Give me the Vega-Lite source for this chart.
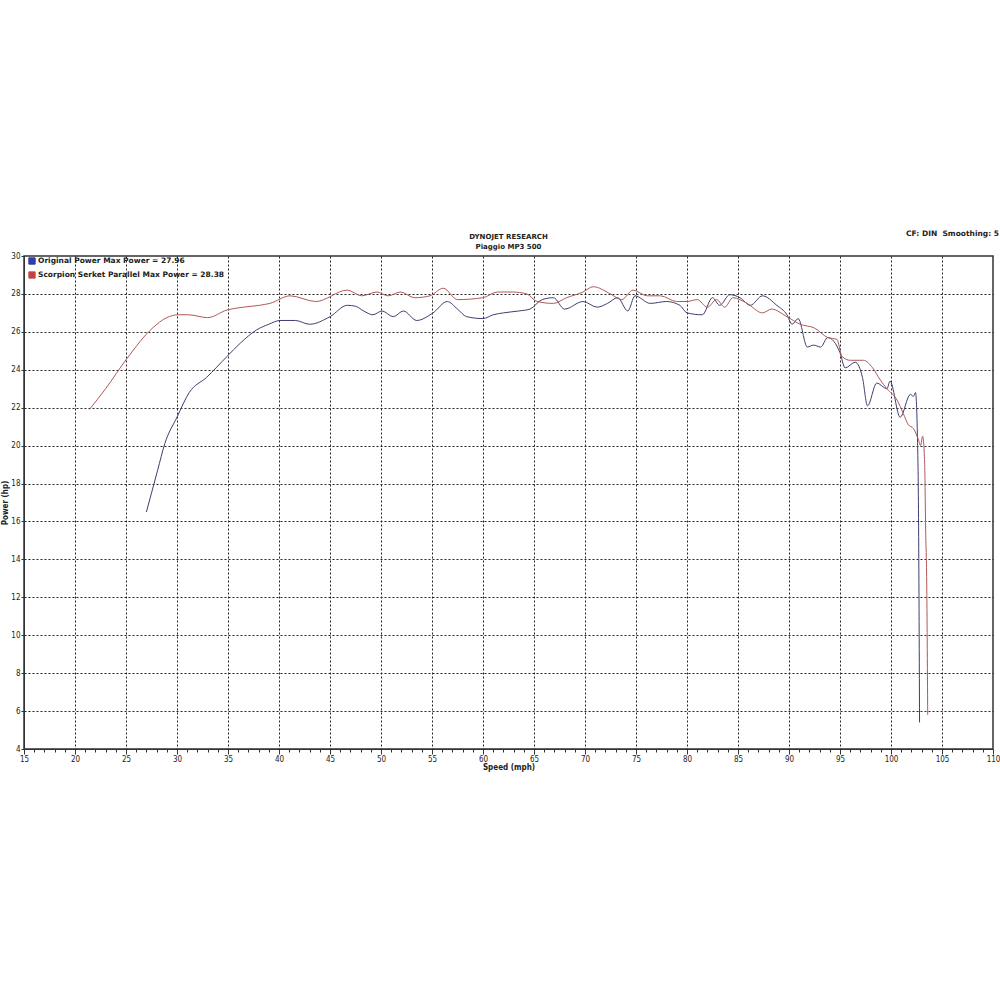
{
  "$schema": "https://vega.github.io/schema/vega-lite/v6.json",
  "width": 969,
  "height": 493,
  "autosize": {"type": "none"},
  "padding": {"left": 24, "top": 256, "right": 7, "bottom": 251},
  "background": "white",
  "title": {
    "text": "DYNOJET RESEARCH",
    "subtitle": "Piaggio MP3 500",
    "anchor": "middle",
    "font": "DejaVu Sans",
    "fontSize": 7,
    "fontWeight": "bold",
    "color": "#222",
    "subtitleFont": "DejaVu Sans",
    "subtitleFontSize": 7,
    "subtitleFontWeight": "bold",
    "subtitleColor": "#222",
    "subtitlePadding": 3,
    "offset": -20
  },
  "config": {
    "view": {"stroke": "#333", "strokeWidth": 1.5},
    "axis": {
      "labelFont": "DejaVu Sans Condensed, Liberation Sans, sans-serif",
      "labelFontSize": 8,
      "labelColor": "#222",
      "titleFont": "DejaVu Sans Condensed, Liberation Sans, sans-serif",
      "titleFontSize": 8,
      "titleFontWeight": "bold",
      "titleColor": "#222",
      "domainColor": "#333",
      "tickColor": "#333",
      "gridColor": "#222",
      "gridDash": [2, 2],
      "gridWidth": 1
    }
  },
  "data": {
    "values": [
      {"series": "Original Power Max Power = 27.96", "speed": 27.0, "power": 16.5},
      {"series": "Original Power Max Power = 27.96", "speed": 28.1, "power": 18.7},
      {"series": "Original Power Max Power = 27.96", "speed": 28.8, "power": 20.1},
      {"series": "Original Power Max Power = 27.96", "speed": 30.0, "power": 21.5},
      {"series": "Original Power Max Power = 27.96", "speed": 31.2, "power": 22.8},
      {"series": "Original Power Max Power = 27.96", "speed": 32.9, "power": 23.6},
      {"series": "Original Power Max Power = 27.96", "speed": 34.9, "power": 24.7},
      {"series": "Original Power Max Power = 27.96", "speed": 36.2, "power": 25.4},
      {"series": "Original Power Max Power = 27.96", "speed": 37.8, "power": 26.1},
      {"series": "Original Power Max Power = 27.96", "speed": 39.0, "power": 26.4},
      {"series": "Original Power Max Power = 27.96", "speed": 40.1, "power": 26.6},
      {"series": "Original Power Max Power = 27.96", "speed": 41.6, "power": 26.6},
      {"series": "Original Power Max Power = 27.96", "speed": 43.0, "power": 26.4},
      {"series": "Original Power Max Power = 27.96", "speed": 45.0, "power": 26.8},
      {"series": "Original Power Max Power = 27.96", "speed": 46.7, "power": 27.4},
      {"series": "Original Power Max Power = 27.96", "speed": 47.5, "power": 27.35},
      {"series": "Original Power Max Power = 27.96", "speed": 48.3, "power": 27.1},
      {"series": "Original Power Max Power = 27.96", "speed": 49.2, "power": 26.9},
      {"series": "Original Power Max Power = 27.96", "speed": 50.1, "power": 27.1},
      {"series": "Original Power Max Power = 27.96", "speed": 51.2, "power": 26.8},
      {"series": "Original Power Max Power = 27.96", "speed": 52.2, "power": 27.1},
      {"series": "Original Power Max Power = 27.96", "speed": 53.5, "power": 26.6},
      {"series": "Original Power Max Power = 27.96", "speed": 55.1, "power": 27.0},
      {"series": "Original Power Max Power = 27.96", "speed": 56.5, "power": 27.6},
      {"series": "Original Power Max Power = 27.96", "speed": 57.5, "power": 27.2},
      {"series": "Original Power Max Power = 27.96", "speed": 58.4, "power": 26.8},
      {"series": "Original Power Max Power = 27.96", "speed": 60.0, "power": 26.7},
      {"series": "Original Power Max Power = 27.96", "speed": 61.0, "power": 26.9},
      {"series": "Original Power Max Power = 27.96", "speed": 62.0, "power": 27.0},
      {"series": "Original Power Max Power = 27.96", "speed": 63.5, "power": 27.1},
      {"series": "Original Power Max Power = 27.96", "speed": 64.6, "power": 27.2},
      {"series": "Original Power Max Power = 27.96", "speed": 65.8, "power": 27.7},
      {"series": "Original Power Max Power = 27.96", "speed": 66.9, "power": 27.8},
      {"series": "Original Power Max Power = 27.96", "speed": 68.0, "power": 27.2},
      {"series": "Original Power Max Power = 27.96", "speed": 69.8, "power": 27.6},
      {"series": "Original Power Max Power = 27.96", "speed": 71.2, "power": 27.3},
      {"series": "Original Power Max Power = 27.96", "speed": 72.2, "power": 27.5},
      {"series": "Original Power Max Power = 27.96", "speed": 73.2, "power": 27.8},
      {"series": "Original Power Max Power = 27.96", "speed": 74.2, "power": 27.1},
      {"series": "Original Power Max Power = 27.96", "speed": 74.9, "power": 27.9},
      {"series": "Original Power Max Power = 27.96", "speed": 76.4, "power": 27.5},
      {"series": "Original Power Max Power = 27.96", "speed": 78.0, "power": 27.6},
      {"series": "Original Power Max Power = 27.96", "speed": 79.3, "power": 27.4},
      {"series": "Original Power Max Power = 27.96", "speed": 80.0, "power": 27.0},
      {"series": "Original Power Max Power = 27.96", "speed": 81.5, "power": 26.9},
      {"series": "Original Power Max Power = 27.96", "speed": 82.5, "power": 27.8},
      {"series": "Original Power Max Power = 27.96", "speed": 83.2, "power": 27.4},
      {"series": "Original Power Max Power = 27.96", "speed": 84.2, "power": 27.96},
      {"series": "Original Power Max Power = 27.96", "speed": 85.2, "power": 27.8},
      {"series": "Original Power Max Power = 27.96", "speed": 86.2, "power": 27.4},
      {"series": "Original Power Max Power = 27.96", "speed": 87.4, "power": 27.9},
      {"series": "Original Power Max Power = 27.96", "speed": 88.8, "power": 27.4},
      {"series": "Original Power Max Power = 27.96", "speed": 89.8, "power": 26.9},
      {"series": "Original Power Max Power = 27.96", "speed": 90.3, "power": 26.4},
      {"series": "Original Power Max Power = 27.96", "speed": 90.9, "power": 26.7},
      {"series": "Original Power Max Power = 27.96", "speed": 91.8, "power": 25.2},
      {"series": "Original Power Max Power = 27.96", "speed": 92.4, "power": 25.3},
      {"series": "Original Power Max Power = 27.96", "speed": 93.1, "power": 25.2},
      {"series": "Original Power Max Power = 27.96", "speed": 93.8, "power": 25.7},
      {"series": "Original Power Max Power = 27.96", "speed": 95.0, "power": 24.9},
      {"series": "Original Power Max Power = 27.96", "speed": 95.5, "power": 24.1},
      {"series": "Original Power Max Power = 27.96", "speed": 96.5, "power": 24.4},
      {"series": "Original Power Max Power = 27.96", "speed": 97.2, "power": 23.6},
      {"series": "Original Power Max Power = 27.96", "speed": 97.7, "power": 22.1},
      {"series": "Original Power Max Power = 27.96", "speed": 98.6, "power": 23.3},
      {"series": "Original Power Max Power = 27.96", "speed": 99.6, "power": 23.0},
      {"series": "Original Power Max Power = 27.96", "speed": 99.9, "power": 23.4},
      {"series": "Original Power Max Power = 27.96", "speed": 100.9, "power": 21.5},
      {"series": "Original Power Max Power = 27.96", "speed": 101.9, "power": 22.7},
      {"series": "Original Power Max Power = 27.96", "speed": 102.2, "power": 22.6},
      {"series": "Original Power Max Power = 27.96", "speed": 102.4, "power": 22.8},
      {"series": "Original Power Max Power = 27.96", "speed": 102.6, "power": 20.3},
      {"series": "Original Power Max Power = 27.96", "speed": 102.7, "power": 16.2},
      {"series": "Original Power Max Power = 27.96", "speed": 102.8, "power": 5.4},
      {"series": "Scorpion Serket Parallel Max Power = 28.38", "speed": 21.4, "power": 21.9},
      {"series": "Scorpion Serket Parallel Max Power = 28.38", "speed": 23.0, "power": 23.0},
      {"series": "Scorpion Serket Parallel Max Power = 28.38", "speed": 25.1, "power": 24.6},
      {"series": "Scorpion Serket Parallel Max Power = 28.38", "speed": 27.6, "power": 26.2},
      {"series": "Scorpion Serket Parallel Max Power = 28.38", "speed": 29.0, "power": 26.75},
      {"series": "Scorpion Serket Parallel Max Power = 28.38", "speed": 30.1, "power": 26.9},
      {"series": "Scorpion Serket Parallel Max Power = 28.38", "speed": 31.1, "power": 26.9},
      {"series": "Scorpion Serket Parallel Max Power = 28.38", "speed": 33.0, "power": 26.75},
      {"series": "Scorpion Serket Parallel Max Power = 28.38", "speed": 34.9, "power": 27.15},
      {"series": "Scorpion Serket Parallel Max Power = 28.38", "speed": 36.5, "power": 27.3},
      {"series": "Scorpion Serket Parallel Max Power = 28.38", "speed": 38.1, "power": 27.4},
      {"series": "Scorpion Serket Parallel Max Power = 28.38", "speed": 39.1, "power": 27.5},
      {"series": "Scorpion Serket Parallel Max Power = 28.38", "speed": 41.1, "power": 27.9},
      {"series": "Scorpion Serket Parallel Max Power = 28.38", "speed": 43.6, "power": 27.6},
      {"series": "Scorpion Serket Parallel Max Power = 28.38", "speed": 46.7, "power": 28.2},
      {"series": "Scorpion Serket Parallel Max Power = 28.38", "speed": 48.1, "power": 27.9},
      {"series": "Scorpion Serket Parallel Max Power = 28.38", "speed": 49.6, "power": 28.1},
      {"series": "Scorpion Serket Parallel Max Power = 28.38", "speed": 50.7, "power": 27.9},
      {"series": "Scorpion Serket Parallel Max Power = 28.38", "speed": 51.9, "power": 28.1},
      {"series": "Scorpion Serket Parallel Max Power = 28.38", "speed": 53.3, "power": 27.8},
      {"series": "Scorpion Serket Parallel Max Power = 28.38", "speed": 54.8, "power": 27.9},
      {"series": "Scorpion Serket Parallel Max Power = 28.38", "speed": 56.1, "power": 28.3},
      {"series": "Scorpion Serket Parallel Max Power = 28.38", "speed": 57.5, "power": 27.7},
      {"series": "Scorpion Serket Parallel Max Power = 28.38", "speed": 60.0, "power": 27.8},
      {"series": "Scorpion Serket Parallel Max Power = 28.38", "speed": 61.4, "power": 28.1},
      {"series": "Scorpion Serket Parallel Max Power = 28.38", "speed": 62.9, "power": 28.1},
      {"series": "Scorpion Serket Parallel Max Power = 28.38", "speed": 64.3, "power": 28.0},
      {"series": "Scorpion Serket Parallel Max Power = 28.38", "speed": 65.3, "power": 27.6},
      {"series": "Scorpion Serket Parallel Max Power = 28.38", "speed": 66.9, "power": 27.5},
      {"series": "Scorpion Serket Parallel Max Power = 28.38", "speed": 68.2, "power": 27.8},
      {"series": "Scorpion Serket Parallel Max Power = 28.38", "speed": 69.8, "power": 28.1},
      {"series": "Scorpion Serket Parallel Max Power = 28.38", "speed": 70.8, "power": 28.38},
      {"series": "Scorpion Serket Parallel Max Power = 28.38", "speed": 72.5, "power": 28.0},
      {"series": "Scorpion Serket Parallel Max Power = 28.38", "speed": 73.6, "power": 27.7},
      {"series": "Scorpion Serket Parallel Max Power = 28.38", "speed": 74.7, "power": 28.2},
      {"series": "Scorpion Serket Parallel Max Power = 28.38", "speed": 76.1, "power": 27.9},
      {"series": "Scorpion Serket Parallel Max Power = 28.38", "speed": 77.4, "power": 27.9},
      {"series": "Scorpion Serket Parallel Max Power = 28.38", "speed": 79.0, "power": 27.6},
      {"series": "Scorpion Serket Parallel Max Power = 28.38", "speed": 80.0, "power": 27.6},
      {"series": "Scorpion Serket Parallel Max Power = 28.38", "speed": 81.0, "power": 27.7},
      {"series": "Scorpion Serket Parallel Max Power = 28.38", "speed": 82.0, "power": 27.3},
      {"series": "Scorpion Serket Parallel Max Power = 28.38", "speed": 82.9, "power": 27.7},
      {"series": "Scorpion Serket Parallel Max Power = 28.38", "speed": 83.7, "power": 27.3},
      {"series": "Scorpion Serket Parallel Max Power = 28.38", "speed": 84.5, "power": 27.8},
      {"series": "Scorpion Serket Parallel Max Power = 28.38", "speed": 85.9, "power": 27.5},
      {"series": "Scorpion Serket Parallel Max Power = 28.38", "speed": 87.4, "power": 27.0},
      {"series": "Scorpion Serket Parallel Max Power = 28.38", "speed": 88.3, "power": 27.2},
      {"series": "Scorpion Serket Parallel Max Power = 28.38", "speed": 89.8, "power": 26.8},
      {"series": "Scorpion Serket Parallel Max Power = 28.38", "speed": 91.1, "power": 26.4},
      {"series": "Scorpion Serket Parallel Max Power = 28.38", "speed": 92.5, "power": 26.2},
      {"series": "Scorpion Serket Parallel Max Power = 28.38", "speed": 93.8, "power": 25.7},
      {"series": "Scorpion Serket Parallel Max Power = 28.38", "speed": 94.7, "power": 25.6},
      {"series": "Scorpion Serket Parallel Max Power = 28.38", "speed": 95.2, "power": 24.7},
      {"series": "Scorpion Serket Parallel Max Power = 28.38", "speed": 96.0, "power": 24.5},
      {"series": "Scorpion Serket Parallel Max Power = 28.38", "speed": 97.3, "power": 24.5},
      {"series": "Scorpion Serket Parallel Max Power = 28.38", "speed": 98.2, "power": 24.1},
      {"series": "Scorpion Serket Parallel Max Power = 28.38", "speed": 98.9, "power": 23.5},
      {"series": "Scorpion Serket Parallel Max Power = 28.38", "speed": 99.6, "power": 23.0},
      {"series": "Scorpion Serket Parallel Max Power = 28.38", "speed": 100.6, "power": 22.4},
      {"series": "Scorpion Serket Parallel Max Power = 28.38", "speed": 101.2, "power": 21.7},
      {"series": "Scorpion Serket Parallel Max Power = 28.38", "speed": 101.7, "power": 21.1},
      {"series": "Scorpion Serket Parallel Max Power = 28.38", "speed": 102.2, "power": 20.9},
      {"series": "Scorpion Serket Parallel Max Power = 28.38", "speed": 102.7, "power": 20.3},
      {"series": "Scorpion Serket Parallel Max Power = 28.38", "speed": 102.9, "power": 20.0},
      {"series": "Scorpion Serket Parallel Max Power = 28.38", "speed": 103.1, "power": 20.5},
      {"series": "Scorpion Serket Parallel Max Power = 28.38", "speed": 103.3, "power": 19.1},
      {"series": "Scorpion Serket Parallel Max Power = 28.38", "speed": 103.4, "power": 15.5},
      {"series": "Scorpion Serket Parallel Max Power = 28.38", "speed": 103.5, "power": 12.8},
      {"series": "Scorpion Serket Parallel Max Power = 28.38", "speed": 103.6, "power": 5.8}
    ]
  },
  "layer": [
    {
      "mark": {"type": "line", "strokeWidth": 1, "interpolate": "monotone", "clip": true},
      "encoding": {
        "x": {
          "field": "speed",
          "type": "quantitative",
          "scale": {"domain": [15, 110], "nice": false, "zero": false},
          "axis": {
            "title": "Speed (mph)",
            "titlePadding": 0,
            "tickCount": 200,
            "format": "d",
            "values": [15,16,17,18,19,20,21,22,23,24,25,26,27,28,29,30,31,32,33,34,35,36,37,38,39,40,41,42,43,44,45,46,47,48,49,50,51,52,53,54,55,56,57,58,59,60,61,62,63,64,65,66,67,68,69,70,71,72,73,74,75,76,77,78,79,80,81,82,83,84,85,86,87,88,89,90,91,92,93,94,95,96,97,98,99,100,101,102,103,104,105,106,107,108,109,110],
            "labelExpr": "datum.value % 5 === 0 ? datum.label : ''",
            "labelPadding": 1,
            "labelFlush": false,
            "labelOverlap": false,
            "tickSize": {"condition": {"test": "datum.value % 5 === 0", "value": 5}, "value": 3},
            "gridOpacity": {"condition": {"test": "datum.value % 5 === 0 && datum.value > 15 && datum.value < 110", "value": 1}, "value": 0}
          }
        },
        "y": {
          "field": "power",
          "type": "quantitative",
          "scale": {"domain": [4, 30], "nice": false, "zero": false},
          "axis": {
            "title": "Power (hp)",
            "titlePadding": 1,
            "tickCount": 50,
            "format": "d",
            "values": [4,6,8,10,12,14,16,18,20,22,24,26,28,30],
            "tickSize": 3,
            "labelPadding": 1,
            "labelFlush": false,
            "labelOverlap": false,
            "gridOpacity": {"condition": {"test": "datum.value > 4 && datum.value < 30", "value": 1}, "value": 0}
          }
        },
        "color": {
          "field": "series",
          "type": "nominal",
          "scale": {
            "domain": ["Original Power Max Power = 27.96", "Scorpion Serket Parallel Max Power = 28.38"],
            "range": ["#3e3e70", "#b05858"]
          },
          "legend": {
            "title": null,
            "orient": "none",
            "legendX": 4,
            "legendY": 1,
            "symbolType": "square",
            "symbolSize": 40,
            "symbolStrokeWidth": 1,
            "labelFont": "DejaVu Sans",
            "labelFontSize": 7.5,
            "labelFontWeight": "bold",
            "labelColor": "#222",
            "labelLimit": 400,
            "labelOffset": 2,
            "rowPadding": 2,
            "padding": 0,
            "encode": {
              "symbols": {
                "update": {
                  "fill": {"signal": "datum.index === 0 ? '#2a3cc8' : '#d23a3a'"},
                  "fillOpacity": {"value": 1},
                  "stroke": {"value": "#333"}
                }
              }
            }
          }
        }
      }
    },
    {
      "data": {"values": [{"label": "CF: DIN\u00a0\u00a0Smoothing: 5", "speed": 110, "power": 30}]},
      "mark": {"type": "text", "align": "right", "baseline": "bottom", "dx": 6, "dy": -18, "font": "DejaVu Sans", "fontSize": 7.5, "fontWeight": "bold", "color": "#222"},
      "encoding": {
        "x": {"field": "speed", "type": "quantitative"},
        "y": {"field": "power", "type": "quantitative"},
        "text": {"field": "label"}
      }
    }
  ]
}
